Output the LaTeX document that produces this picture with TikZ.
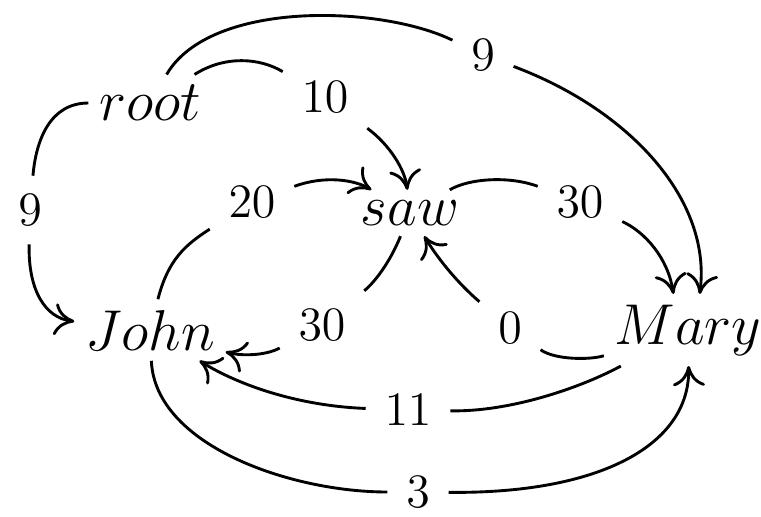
\documentclass[tikz,border=0pt]{standalone}
\usepackage{tikz}
\usetikzlibrary{arrows.meta}
\usepackage{amssymb}

\tikzset{
  word/.style={inner sep=2.5pt, font=\fontsize{13.5}{16}\selectfont},
  score/.style={inner sep=4.5pt, font=\fontsize{13}{16}\selectfont},
  arc/.style={line width=0.72pt, -{To[length=5pt,width=8pt]}},
  half/.style={line width=0.72pt}
}

\begin{document}
\begin{tikzpicture}[x=0.25pt,y=0.25pt,yscale=-1,xscale=1]
\useasboundingbox (0,0) rectangle (761,516);

% Text Node
\node [word] (root) at (150,103) {$root$};
% Text Node
\node [word] (saw) at (410,213) {$saw$};
% Text Node
\node [word] (john) at (150,330) {$John$};
% Text Node
\node [word] (mary) at (688,330) {$Mary$};

% Text Node
\node [score] (s9top) at (483,55) {$9$};
% Text Node
\node [score] (s10) at (325,97) {$10$};
% Text Node
\node [score] (s9left) at (30,210) {$9$};
% Text Node
\node [score] (s20) at (252,202) {$20$};
% Text Node
\node [score] (s30top) at (580,202) {$30$};
% Text Node
\node [score] (s30low) at (322,325) {$30$};
% Text Node
\node [score] (s0) at (510,328) {$0$};
% Text Node
\node [score] (s11) at (408,410) {$11$};
% Text Node
\node [score] (s3) at (418,492) {$3$};

%Curve Lines root -> Mary
\draw [half] (root) .. controls (210,0) and (380,5) .. (s9top);
\draw [arc] (s9top) .. controls (630,110) and (712,200) .. (mary.72);
%Curve Lines root -> saw
\draw [half] (root) .. controls (225,55) and (260,58) .. (s10);
\draw [arc] (s10) .. controls (390,145) and (405,170) .. (saw);
%Curve Lines root -> John
\draw [half] (root) .. controls (50,103) and (36,140) .. (s9left);
\draw [arc] (s9left) .. controls (28,290) and (45,318) .. (john);
%Curve Lines John -> saw
\draw [half] (john) .. controls (168,260) and (185,245) .. (s20);
\draw [arc] (s20) .. controls (325,175) and (355,180) .. (saw);
%Curve Lines saw -> Mary
\draw [half] (saw) .. controls (470,178) and (510,176) .. (s30top);
\draw [arc] (s30top) .. controls (645,232) and (668,258) .. (mary.112);
%Curve Lines saw -> John
\draw [half] (saw) .. controls (390,262) and (375,282) .. (s30low);
\draw [arc] (s30low) .. controls (265,356) and (240,356) .. (john);
%Curve Lines Mary -> saw
\draw [half] (mary) .. controls (590,360) and (555,360) .. (s0);
\draw [arc] (s0) .. controls (460,285) and (440,262) .. (saw);
%Curve Lines Mary -> John
\draw [half] (mary) .. controls (580,388) and (510,412) .. (s11);
\draw [arc] (s11) .. controls (300,406) and (240,386) .. (john);
%Curve Lines John -> Mary
\draw [half] (john) .. controls (155,445) and (290,492) .. (s3);
\draw [arc] (s3) .. controls (600,494) and (690,445) .. (mary);

\end{tikzpicture}
\end{document}
